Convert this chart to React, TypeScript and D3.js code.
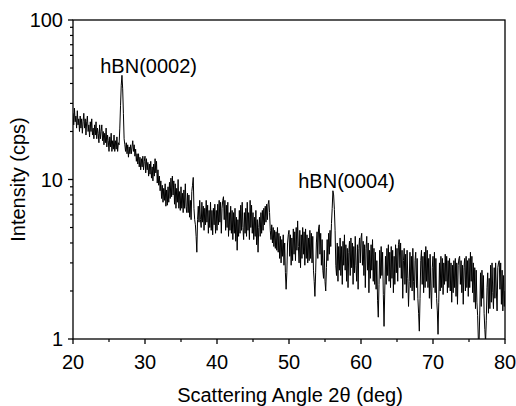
import React from "react";
import * as d3 from "d3";

const xStart = 20;
const xStep = 0.1;

const intensity20to30: number[] = [
  26, 22, 28, 23, 25, 21, 27, 22, 24, 20,
  25, 21, 24, 19.5, 23, 26, 21, 24, 19, 23,
  25, 20, 22, 18.5, 23, 20, 24, 19, 21, 18,
  22, 19, 23, 18, 21, 19.5, 17, 22, 18, 20,
  22, 17.5, 20, 16.5, 19.5, 17, 21, 16, 19, 17.5,
  15, 18.5, 16, 19.5, 15, 17.5, 15.5, 19, 15, 17.5,
  15.5, 18.5, 15, 17, 16.5, 21, 29, 39, 45, 37,
  26, 18, 16.5, 15, 17, 14.5, 16.5, 13.8, 16, 14.5,
  16.5, 14.5, 16, 17.5, 15, 16.5, 14, 15.5, 13, 14.5,
  12.5, 14.5, 12, 13.8, 11.5, 13.5, 12, 14, 11.5, 13,
];
const intensity30to40: number[] = [
  14, 11, 13.5, 11.5, 12.8, 10.5, 12.5, 10.8, 13, 10.2,
  12, 9.8, 12.5, 10.5, 13.5, 11, 13, 9.5, 11.5, 9.2,
  10.5, 8.5, 9.8, 7.6, 9.2, 7.2, 8.8, 7.4, 9.4, 6.8,
  8.6, 6.9, 9, 7.2, 9.6, 7.6, 10.2, 7.8, 10.5, 8,
  9.8, 7, 9.4, 6.6, 8.8, 7.2, 10, 6.6, 8.4, 6.4,
  9, 6.6, 8.2, 6.2, 8.6, 6.6, 9.4, 6.8, 6.2, 8.2,
  6.2, 8, 5.8, 7.4, 5.6, 8.4, 9.2, 10.3, 6.6, 5.6,
  5.2, 4.4, 3.5, 5.6, 6.8, 5.4, 7.4, 5.6, 5, 7.2,
  5.4, 6.8, 4.8, 6.6, 5.2, 7.4, 5.4, 6.9, 4.6, 6.4,
  5, 7.2, 4.8, 6.4, 4.5, 6.6, 5.2, 7, 4.6, 6.4,
];
const intensity40to50: number[] = [
  4.8, 7, 5.2, 7.4, 5.4, 7.2, 4.6, 6.6, 7.4, 7.8,
  5.6, 7.4, 4.8, 6.9, 5, 7.2, 4.4, 6.2, 4.8, 6.8,
  4.6, 6.4, 4.2, 6.2, 4.6, 6.6, 4.1, 5.8, 3.6, 5.6,
  4.4, 6.4, 4.6, 6.9, 4.8, 7.2, 5, 4.2, 6.2, 4.6,
  6.6, 4.4, 7.2, 4.8, 6.2, 4.2, 7.4, 5, 6.9, 4.6,
  6.2, 4.2, 5.8, 4.4, 6.4, 3.9, 5.6, 3.5, 5, 5.8,
  4.4, 6.2, 4.6, 6.4, 4.8, 6.6, 5.2, 6.8, 5.4, 7,
  5.6, 7, 7.4, 6.2, 4.8, 4.2, 5.2, 4, 5, 3.8,
  4.8, 3.7, 4.7, 3.6, 5, 3.5, 4.6, 3.2, 4.4, 3,
  4.2, 3.3, 4.5, 2.9, 4, 2.6, 2.05, 2.6, 4, 4.5,
];
const intensity50to60: number[] = [
  4.8, 3.3, 4.5, 2.9, 4.3, 3.1, 4.9, 3.4, 4.7, 3.1,
  5, 3.6, 5.5, 3.8, 3, 4.8, 2.8, 4.5, 3.2, 5,
  3.4, 4.7, 2.9, 4.9, 3.2, 4.5, 3, 4.3, 3.1, 4.8,
  3.2, 4.6, 3, 4.4, 2.7, 2.3, 1.85, 2.6, 4, 4.7,
  3.2, 4.9, 5.2, 3.4, 4.6, 2.9, 4.2, 2.7, 2.4, 3.6,
  2.3, 2.0, 2.8, 4.2, 3.1, 4.6, 3.4, 4.8, 3.8, 5.3,
  6.6, 8.5, 8, 6.5, 4.8, 2.9, 2.5, 4, 2.3, 3.8,
  2.7, 4.3, 2.5, 3.8, 2.2, 4.1, 2.9, 4.5, 2.7, 3.9,
  2.3, 3.7, 2.1, 3.5, 4.1, 2.5, 4.3, 2.8, 4, 2.2,
  3.8, 2.6, 4.4, 2.9, 2.3, 3.9, 2.05, 3.7, 4.3, 3,
];
const intensity60to70: number[] = [
  4.3, 4.6, 2.9, 4.1, 2.5, 3.9, 2.1, 3.7, 4.4, 2.7,
  4, 1.95, 3.6, 2.4, 3.9, 2.7, 4.2, 2.3, 3.7, 2.2,
  3.5, 2.05, 3.1, 1.75, 1.37, 2.2, 3.6, 2.4, 3.8, 2.5,
  3.5, 1.9, 1.2, 2, 3.3, 2.2, 3.7, 2.5, 3.9, 2.3,
  3.5, 2.1, 3.8, 2.4, 3.6, 1.95, 3.3, 2.2, 3.9, 2.6,
  3.7, 2.3, 3.9, 4.2, 2.8, 4, 2.4, 3.6, 1.8, 3.1,
  3.7, 2.2, 3.4, 1.95, 3.6, 2.4, 1.6, 2.3, 3.5, 2.1,
  3.3, 2, 3.7, 2.3, 1.75, 3.1, 3.5, 2.1, 3.2, 1.8,
  1.45, 1.12, 1.8, 3.1, 3.6, 2.2, 3.3, 1.95, 3.5, 2.1,
  3.8, 2.3, 3.6, 2.1, 3.2, 1.8, 3.4, 2, 1.55, 2.8,
];
const intensity70to80: number[] = [
  3.3, 2.1, 3.5, 1.95, 3.2, 1.8, 1.5, 1.07, 1.7, 3,
  2, 3.3, 2.1, 3.2, 1.9, 3, 2.2, 3.4, 2.3, 3.3,
  1.95, 3.1, 2.1, 3.2, 2, 3, 1.7, 2.9, 1.95, 3.1,
  2.1, 3.2, 1.85, 3, 1.65, 2.9, 3.2, 3.3, 2.2, 3.1,
  1.95, 2.9, 1.65, 2.8, 3.2, 2, 3.3, 2.1, 3.1, 1.85,
  3.2, 2.1, 3.5, 2.3, 3.3, 1.95, 3, 1.7, 2.8, 1.55,
  2.7, 1.7, 1.4, 0.98, 0.95, 1.5, 2.6, 1.6, 2.7, 1.8,
  2.5, 1.45, 1.15, 0.95, 1.3, 2.1, 2.6, 1.45, 2.4, 1.55,
  2.9, 1.7, 3, 1.95, 1.55, 2.8, 1.8, 3, 2, 1.5,
  2.8, 3, 3.1, 2.05, 3, 1.65, 2.7, 1.5, 2.5, 1.6,
  2.0,
];

const intensity: number[] = [
  ...intensity20to30,
  ...intensity30to40,
  ...intensity40to50,
  ...intensity50to60,
  ...intensity60to70,
  ...intensity70to80,
];

const xTicks = [20, 30, 40, 50, 60, 70, 80];
const xMinorTicks = [25, 35, 45, 55, 65, 75];
const yTicks = [1, 10, 100];
const yTickLabels = ["1", "10", "100"];

// label anchor (text centre x, baseline y) in data units
const peakLabels = [
  { label: "hBN(0002)", x: 30.5, y: 46.5 },
  { label: "hBN(0004)", x: 58.0, y: 8.9 },
];

const W = 516;
const H = 406;
const left = 73;
const right = 505;
const top = 20;
const bottom = 339;
const FONT = "'Liberation Sans', Arial, sans-serif";
const FS = 20;

export default function App() {
  const x = d3.scaleLinear().domain([20, 80]).range([left, right]);
  const y = d3.scaleLog().domain([1, 100]).range([bottom, top]);

  const points = intensity.map((v, i) => [xStart + i * xStep, v] as [number, number]);
  const line = d3
    .line<[number, number]>()
    .x((d) => x(d[0]))
    .y((d) => y(d[1]));

  const yMinor: number[] = [];
  [1, 10].forEach((dec) => {
    for (let k = 2; k <= 9; k++) yMinor.push(dec * k);
  });

  return (
    <svg
      width={W}
      height={H}
      style={{ position: "absolute", left: 0, top: 0, background: "#fff" }}
    >
      <rect x={0} y={0} width={W} height={H} fill="#fff" />
      <defs>
        <clipPath id="plotClip">
          <rect x={left} y={top} width={right - left} height={bottom - top} />
        </clipPath>
      </defs>
      <path
        d={line(points) || ""}
        fill="none"
        stroke="#000"
        strokeWidth={1}
        clipPath="url(#plotClip)"
      />
      <rect
        x={left}
        y={top}
        width={right - left}
        height={bottom - top}
        fill="none"
        stroke="#000"
        strokeWidth={1.3}
      />
      {xTicks.map((t) => (
        <g key={"xt" + t}>
          <line x1={x(t)} x2={x(t)} y1={bottom} y2={bottom + 5} stroke="#000" strokeWidth={1.3} />
          <text
            x={x(t)}
            y={369}
            textAnchor="middle"
            fontFamily={FONT}
            fontSize={FS}
            fill="#000"
          >
            {t}
          </text>
        </g>
      ))}
      {xMinorTicks.map((t) => (
        <line key={"xm" + t} x1={x(t)} x2={x(t)} y1={bottom} y2={bottom + 3} stroke="#000" strokeWidth={1.2} />
      ))}
      {yTicks.map((t, i) => (
        <g key={"yt" + t}>
          <line x1={left - 5} x2={left} y1={y(t)} y2={y(t)} stroke="#000" strokeWidth={1.3} />
          <text
            x={63}
            y={y(t) + 7}
            textAnchor="end"
            fontFamily={FONT}
            fontSize={FS}
            fill="#000"
          >
            {yTickLabels[i]}
          </text>
        </g>
      ))}
      {yMinor.map((t) => (
        <line key={"ym" + t} x1={left - 3} x2={left} y1={y(t)} y2={y(t)} stroke="#000" strokeWidth={1.2} />
      ))}
      {peakLabels.map((p) => (
        <text
          key={p.label}
          x={x(p.x)}
          y={y(p.y)}
          textAnchor="middle"
          fontFamily={FONT}
          fontSize={FS}
          fill="#000"
        >
          {p.label}
        </text>
      ))}
      <text
        x={290}
        y={402}
        textAnchor="middle"
        fontFamily={FONT}
        fontSize={FS}
        fill="#000"
      >
        Scattering Angle 2θ (deg)
      </text>
      <text
        transform={`translate(25, ${(top + bottom) / 2}) rotate(-90)`}
        textAnchor="middle"
        fontFamily={FONT}
        fontSize={FS}
        fill="#000"
      >
        Intensity (cps)
      </text>
    </svg>
  );
}
